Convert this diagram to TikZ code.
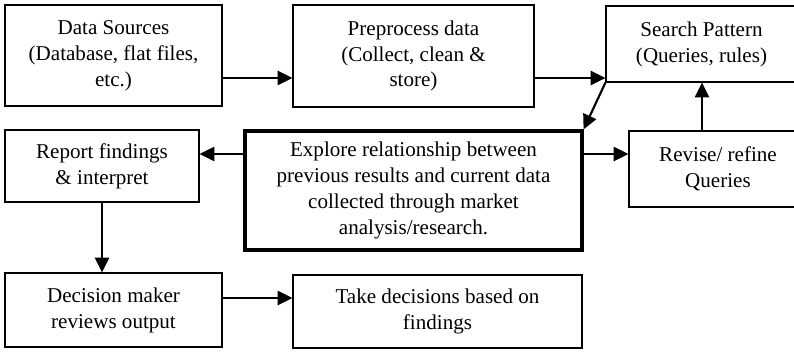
\documentclass[tikz,border=0pt]{standalone}
\usepackage{fontspec}
\setmainfont{Liberation Serif}
\usetikzlibrary{arrows.meta}
\begin{document}
\begin{tikzpicture}[x=0.75pt,y=-0.75pt,
  box/.style={draw=black,line width=0.9pt,rectangle,inner sep=0pt,align=center,
    font=\fontsize{15.8pt}{19.4pt}\selectfont},
  mainbox/.style={box,line width=2.4pt},
  arr/.style={draw=black,line width=1.6pt,-{Triangle[length=11pt,width=10.5pt]}}]
\useasboundingbox (0,0) rectangle (794,351);
\begin{scope}
\clip (0,0) rectangle (794,351);
% process boxes
\node[box,minimum width=217*0.75pt,minimum height=101*0.75pt] (ds) at (113.5,55.5)
  {Data Sources\\(Database, flat files,\\etc.)};
\node[box,minimum width=241*0.75pt,minimum height=102*0.75pt] (pp) at (413.5,56)
  {Preprocess data\\(Collect, clean \&\\store)};
\node[box,minimum width=191*0.75pt,minimum height=76*0.75pt] (sp) at (701.5,44)
  {Search Pattern\\(Queries, rules)};
\node[box,minimum width=194*0.75pt,minimum height=72*0.75pt] (rp) at (102,166)
  {Report findings\\\& interpret};
\node[mainbox,minimum width=337*0.75pt,minimum height=119*0.75pt] (ex) at (413.5,190.5)
  {Explore relationship between\\previous results and current data\\collected through market\\analysis/research.};
\node[box,minimum width=178*0.75pt,minimum height=76*0.75pt] (rv) at (718,169)
  {Revise/ refine\\Queries};
\node[box,minimum width=217*0.75pt,minimum height=74*0.75pt] (dm) at (113.5,310)
  {Decision maker\\reviews output};
\node[box,minimum width=289*0.75pt,minimum height=73*0.75pt] (tk) at (437.5,311.5)
  {Take decisions based on\\findings};
\end{scope}
% levels of the connectors
\coordinate (top) at (0,78);
\coordinate (mid) at (0,154);
\coordinate (low) at (0,298);
\coordinate (up) at (702,0);
% connectors
\draw[arr] (ds.east |- top) -- (pp.west |- top);
\draw[arr] (pp.east |- top) -- (sp.west |- top);
\draw[arr] (sp.south west) -- (ex.north east);
\draw[arr] (ex.east |- mid) -- (rv.west |- mid);
\draw[arr] (rv.north -| up) -- (sp.south -| up);
\draw[arr] (ex.west |- mid) -- (rp.east |- mid);
\draw[arr] (rp.south) -- (rp.south |- dm.north);
\draw[arr] (dm.east |- low) -- (tk.west |- low);
\end{tikzpicture}
\end{document}
